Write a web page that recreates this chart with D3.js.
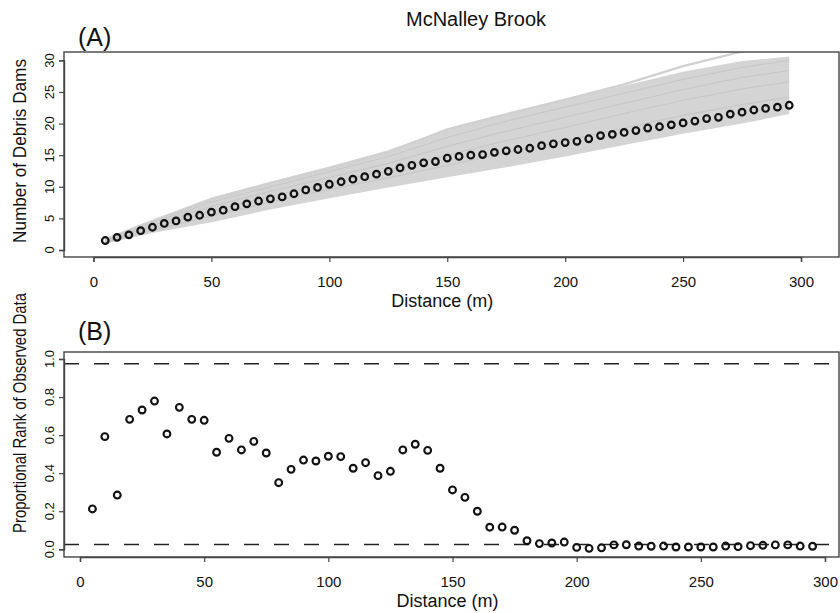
<!DOCTYPE html>
<html>
<head>
<meta charset="utf-8">
<script src="https://cdn.jsdelivr.net/npm/d3@7"></script>
<style>
  body { margin: 0; background: #fff; }
  text { font-family: "Liberation Sans", Arial, Helvetica, sans-serif; fill: #111; }
</style>
</head>
<body>
<svg width="840" height="613"></svg>
<script>
// observed distances (m)
var distance = [5, 10, 15, 20, 25, 30, 35, 40, 45, 50, 55, 60, 65, 70, 75, 80, 85, 90, 95, 100,
  105, 110, 115, 120, 125, 130, 135, 140, 145, 150, 155, 160, 165, 170, 175, 180, 185, 190, 195, 200,
  205, 210, 215, 220, 225, 230, 235, 240, 245, 250, 255, 260, 265, 270, 275, 280, 285, 290, 295];

// panel A: cumulative number of debris dams (observed)
var dams = [1.5, 2.0, 2.4, 3.05, 3.6, 4.2, 4.6, 5.2, 5.5, 6.0, 6.3, 6.85, 7.3, 7.75, 8.1, 8.4, 8.9, 9.5, 9.9, 10.4,
  10.8, 11.2, 11.6, 12.0, 12.45, 13.0, 13.4, 13.8, 14.0, 14.55, 14.8, 15.0, 15.1, 15.45, 15.7, 15.9, 16.1, 16.5, 16.8, 17.0,
  17.2, 17.6, 18.1, 18.3, 18.6, 18.9, 19.3, 19.5, 19.8, 20.1, 20.4, 20.8, 21.0, 21.5, 21.8, 22.15, 22.4, 22.6, 22.9];

// panel A: simulated runs (grey), read at a few distances
var simDist  = [5, 25, 50, 75, 100, 125, 150, 175, 200, 225, 250, 275, 295];
var simUpper = [1.8, 4.8, 8.3, 10.8, 13.2, 15.8, 19.1, 21.5, 23.8, 26.0, 28.2, 29.9, 30.6];
var simLower = [1.0, 2.7, 4.4, 6.4, 8.2, 9.9, 11.5, 13.1, 14.8, 16.6, 18.4, 20.0, 21.5];
var simRuns = [
  [1.6, 4.3, 7.6, 10.0, 12.4, 14.8, 17.8, 20.4, 22.6, 24.8, 27.0, 28.9, 30.0],
  [1.4, 3.9, 6.9, 9.3, 11.5, 13.7, 16.4, 18.8, 21.0, 23.2, 25.4, 27.3, 28.4],
  [1.3, 3.5, 6.2, 8.5, 10.6, 12.6, 15.0, 17.3, 19.4, 21.6, 23.7, 25.5, 26.6],
  [1.2, 3.1, 5.4, 7.6, 9.6, 11.4, 13.4, 15.4, 17.3, 19.3, 21.3, 23.0, 24.2]
];
var simOutlier = [1.7, 4.6, 8.0, 10.6, 12.9, 15.5, 19.1, 21.5, 23.8, 26.2, 29.1, 31.4, 33.0];

// panel B: proportional rank of observed data
var rank = [0.212, 0.592, 0.285, 0.683, 0.732, 0.779, 0.606, 0.746, 0.683, 0.678, 0.510, 0.583, 0.522, 0.567, 0.506,
  0.350, 0.420, 0.469, 0.464, 0.489, 0.487, 0.426, 0.455, 0.387, 0.410, 0.522, 0.552, 0.520, 0.426, 0.312,
  0.273, 0.200, 0.116, 0.117, 0.100, 0.045, 0.030, 0.033, 0.038, 0.010, 0.005, 0.008, 0.023, 0.024, 0.017,
  0.016, 0.017, 0.012, 0.012, 0.012, 0.012, 0.017, 0.014, 0.019, 0.021, 0.023, 0.023, 0.017, 0.016];
var bounds = [0.025, 0.975];

var xTicks = [0, 50, 100, 150, 200, 250, 300];
var yTicksA = [0, 5, 10, 15, 20, 25, 30];
var yTicksB = [0, 0.2, 0.4, 0.6, 0.8, 1.0];

var svg = d3.select("svg");

var boxA = {l: 64, r: 839, t: 52, b: 257};
var boxB = {l: 64, r: 839, t: 352, b: 557};

var xA = d3.scaleLinear().domain([0, 300]).range([93.5, 801]);
var yA = d3.scaleLinear().domain([0, 30]).range([250, 60.4]);
var xB = d3.scaleLinear().domain([0, 300]).range([80, 825]);
var yB = d3.scaleLinear().domain([0, 1]).range([549.3, 359]);

svg.append("text").attr("x", 476).attr("y", 26).attr("text-anchor", "middle")
  .style("font-size", "20px").text("McNalley Brook");

svg.append("defs").append("clipPath").attr("id", "clipA")
  .append("rect").attr("x", boxA.l).attr("y", boxA.t)
  .attr("width", boxA.r - boxA.l).attr("height", boxA.b - boxA.t);

// ---- panel A
var gA = svg.append("g").attr("clip-path", "url(#clipA)");
var band = d3.area()
  .x(function(d, i) { return xA(simDist[i]); })
  .y0(function(d, i) { return yA(simLower[i]); })
  .y1(function(d) { return yA(d); });
gA.append("path").datum(simUpper).attr("d", band).attr("fill", "#d4d4d4");

var simLine = d3.line()
  .x(function(d, i) { return xA(simDist[i]); })
  .y(function(d) { return yA(d); });
gA.selectAll(".run").data(simRuns).enter().append("path")
  .attr("d", simLine).attr("fill", "none").attr("stroke", "#c8c8c8").attr("stroke-width", 1.2);
gA.append("path").datum(simOutlier).attr("d", simLine)
  .attr("fill", "none").attr("stroke", "#d0d0d0").attr("stroke-width", 2.2);

svg.append("g").selectAll("circle").data(dams).enter().append("circle")
  .attr("cx", function(d, i) { return xA(distance[i]); })
  .attr("cy", function(d) { return yA(d); })
  .attr("r", 3.3).attr("fill", "none").attr("stroke", "#111").attr("stroke-width", 2.2);

// ---- panel B
svg.append("g").selectAll("line").data(bounds).enter().append("line")
  .attr("x1", boxB.l).attr("x2", boxB.r)
  .attr("y1", function(d) { return yB(d); }).attr("y2", function(d) { return yB(d); })
  .attr("stroke", "#222").attr("stroke-width", 1.5).attr("stroke-dasharray", "15,15");

svg.append("g").selectAll("circle").data(rank).enter().append("circle")
  .attr("cx", function(d, i) { return xB(distance[i]); })
  .attr("cy", function(d) { return yB(d); })
  .attr("r", 3.4).attr("fill", "none").attr("stroke", "#111").attr("stroke-width", 2.1);

// ---- frames and axes
function frame(box, x, y, yTicks, fmt, label, tag, tagY, labY, labLen, labMid) {
  svg.append("rect").attr("x", box.l).attr("y", box.t)
    .attr("width", box.r - box.l).attr("height", box.b - box.t)
    .attr("fill", "none").attr("stroke", "#444").attr("stroke-width", 1.4);

  var ax = svg.append("g").attr("transform", "translate(0," + box.b + ")")
    .call(d3.axisBottom(x).tickValues(xTicks).tickSize(5).tickPadding(14).tickFormat(d3.format("d")));
  ax.select(".domain").attr("stroke", "#444").attr("stroke-width", 1.4);
  ax.selectAll(".tick line").attr("stroke", "#444").attr("stroke-width", 1.2);
  ax.selectAll(".tick text").style("font-size", "15px").attr("fill", "#111");

  var ay = svg.append("g").attr("transform", "translate(" + box.l + ",0)")
    .call(d3.axisLeft(y).tickValues(yTicks).tickSize(5).tickFormat(""));
  ay.select(".domain").attr("stroke", "#444").attr("stroke-width", 1.4);
  ay.selectAll(".tick line").attr("stroke", "#444").attr("stroke-width", 1.2);

  svg.append("g").selectAll("text").data(yTicks).enter().append("text")
    .attr("transform", function(d) { return "translate(53.5," + y(d) + ") rotate(-90)"; })
    .attr("text-anchor", "middle").style("font-size", "13px")
    .text(function(d) { return d3.format(fmt)(d); });

  svg.append("text").attr("x", x(150) - 5).attr("y", labY).attr("text-anchor", "middle")
    .style("font-size", "18px").text("Distance (m)");

  svg.append("text").attr("transform", "translate(26," + labMid + ") rotate(-90)")
    .attr("text-anchor", "middle").style("font-size", "17.5px")
    .attr("textLength", labLen).attr("lengthAdjust", "spacingAndGlyphs")
    .text(label);

  svg.append("text").attr("x", 78).attr("y", tagY).style("font-size", "25px").text(tag);
}

frame(boxA, xA, yA, yTicksA, "d", "Number of Debris Dams", "(A)", 46, 307, 184, 151);
frame(boxB, xB, yB, yTicksB, ".1f", "Proportional Rank of Observed Data", "(B)", 340, 607, 240, 413);
</script>
</body>
</html>
